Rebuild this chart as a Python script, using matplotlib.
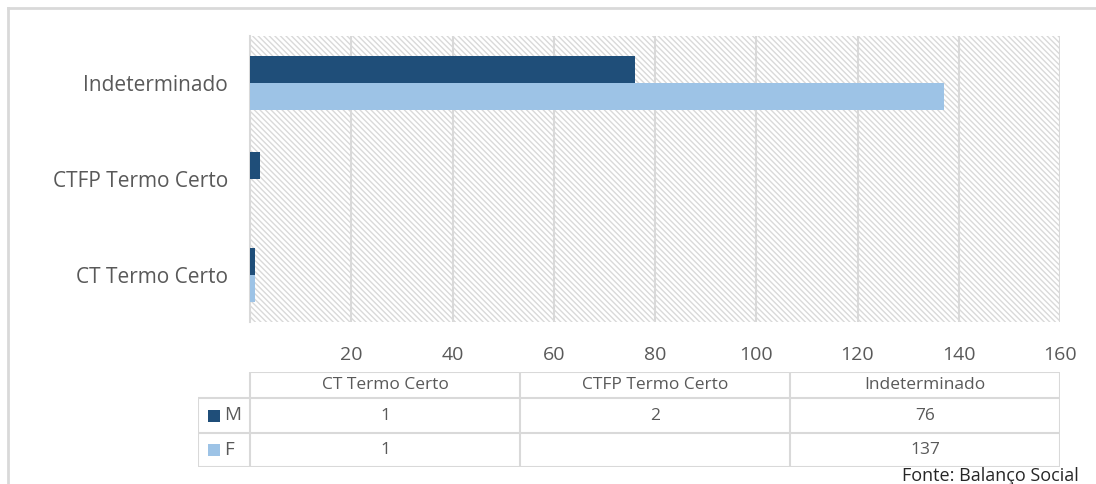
import matplotlib.pyplot as plt
from matplotlib.patches import Rectangle
from matplotlib.lines import Line2D

categories = ["CT Termo Certo", "CTFP Termo Certo", "Indeterminado"]
series_names = ["M", "F"]
m_values = [1, 2, 76]
f_values = [1, None, 137]
x_ticks = [20, 40, 60, 80, 100, 120, 140, 160]

colors = {"M": "#1F4E79", "F": "#9DC3E6"}
text_col = "#595959"
grid_col = "#D9D9D9"

plt.rcParams['font.family'] = ['Open Sans', 'DejaVu Sans']
plt.rcParams['hatch.linewidth'] = 1.0

W, H = 1096, 484
fig = plt.figure(figsize=(W / 100, H / 100), dpi=100)

# outer frame (only top and left are visible in the crop)
fig.add_artist(Line2D([8 / W, 8 / W], [0, 1 - 8 / H], color=grid_col, lw=2, transform=fig.transFigure))
fig.add_artist(Line2D([8 / W, 1.01], [1 - 8 / H, 1 - 8 / H], color=grid_col, lw=2, transform=fig.transFigure))

ax = fig.add_axes([250 / W, 1 - 322 / H, 810 / W, 286 / H])
ax.set_xlim(0, 160)
ax.set_ylim(-0.49, 2.49)

# hatched background
bg = Rectangle((0, 0), 1, 1, transform=ax.transAxes, facecolor="white",
               edgecolor="#D9D9D9", hatch="\\" * 6, lw=0, zorder=0)
ax.add_patch(bg)
ax.patch.set_visible(False)

h = 0.28
ypos = list(range(len(categories)))
mv = [v if v is not None else 0 for v in m_values]
fv = [v if v is not None else 0 for v in f_values]
ax.barh([y + h / 2 for y in ypos], mv, height=h, color=colors["M"], zorder=3)
ax.barh([y - h / 2 for y in ypos], fv, height=h, color=colors["F"], zorder=3)

ax.set_xticks(x_ticks)
ax.set_yticks(ypos)
ax.set_yticklabels(categories)
ax.tick_params(axis="both", length=0, colors=text_col)
ax.tick_params(axis="x", pad=17, labelsize=14)
ax.tick_params(axis="y", pad=16, labelsize=15)
ax.grid(axis="x", color=grid_col, lw=1.5, zorder=1)
for s in ["top", "right", "bottom"]:
    ax.spines[s].set_visible(False)
ax.spines["left"].set_color(grid_col)
ax.spines["left"].set_linewidth(1.5)

# data table below the chart
tx = fig.add_axes([198 / W, 1 - 467 / H, 862 / W, 95 / H])
tx.set_xlim(198, 1060)
tx.set_ylim(467, 372)
tx.axis("off")
col_edges = [250 + i * 270 for i in range(len(categories) + 1)]
row_edges = [372, 398, 433, 467]
lkw = dict(color=grid_col, lw=1.5, solid_capstyle="butt")
# horizontal lines
tx.plot([250, 1060], [row_edges[0]] * 2, **lkw)
for r in row_edges[1:]:
    tx.plot([198, 1060], [r, r], **lkw)
# vertical lines
tx.plot([198, 198], [row_edges[1], row_edges[-1]], **lkw)
for c in col_edges:
    tx.plot([c, c], [row_edges[0], row_edges[-1]], **lkw)

fs = 12.5
for i, cat in enumerate(categories):
    cx = (col_edges[i] + col_edges[i + 1]) / 2
    tx.text(cx, (row_edges[0] + row_edges[1]) / 2, cat, ha="center", va="center",
            fontsize=fs, color=text_col)
rows = [m_values, f_values]
for j, (name, vals) in enumerate(zip(series_names, rows)):
    cy = (row_edges[j + 1] + row_edges[j + 2]) / 2
    tx.add_patch(Rectangle((208, cy - 6), 12, 12, color=colors[name], lw=0))
    tx.text(224, cy, name, ha="left", va="center", fontsize=fs + 1, color=text_col)
    for i, v in enumerate(vals):
        if v is None:
            continue
        cx = (col_edges[i] + col_edges[i + 1]) / 2
        tx.text(cx, cy, str(v), ha="center", va="center", fontsize=fs, color=text_col)

fig.text(1079 / W, 1 - 476 / H, "Fonte: Balanço Social", ha="right", va="center",
         fontsize=13, color="#262626")

fig.savefig("out.png", dpi=100)
